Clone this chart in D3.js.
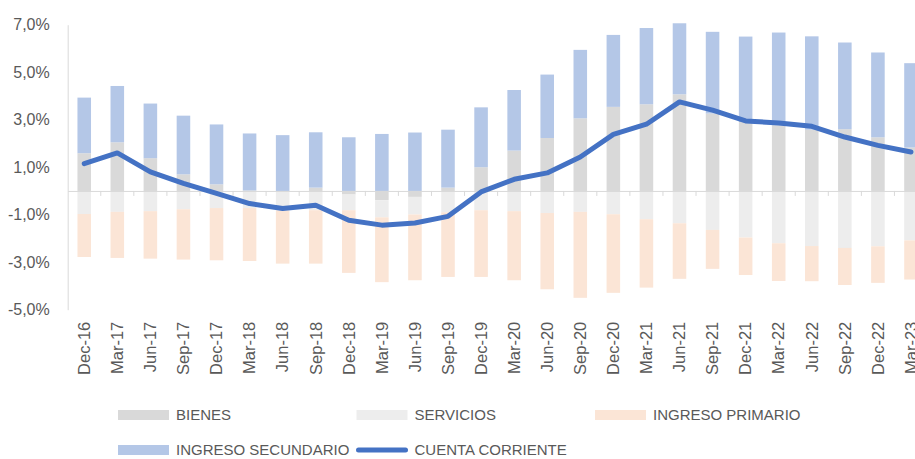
<!DOCTYPE html>
<html>
<head>
<meta charset="utf-8">
<script src="https://cdnjs.cloudflare.com/ajax/libs/d3/7.8.5/d3.min.js"></script>
<style>
  body { margin: 0; background: #fff; }
  text { font-family: "Liberation Sans", Arial, sans-serif; fill: #595959; }
</style>
</head>
<body>
<div id="chart"></div>
<script>
// quarters on the x axis
var periods = ['Dec-16', 'Mar-17', 'Jun-17', 'Sep-17', 'Dec-17', 'Mar-18', 'Jun-18', 'Sep-18',
  'Dec-18', 'Mar-19', 'Jun-19', 'Sep-19', 'Dec-19', 'Mar-20', 'Jun-20', 'Sep-20', 'Dec-20',
  'Mar-21', 'Jun-21', 'Sep-21', 'Dec-21', 'Mar-22', 'Jun-22', 'Sep-22', 'Dec-22', 'Mar-23'];

// % of GDP
var bienes = [1.59, 2.05, 1.38, 0.70, 0.28, 0.02, -0.02, 0.14, -0.15, -0.39, -0.25, 0.14, 1.00,
  1.70, 2.23, 3.06, 3.54, 3.65, 4.07, 3.26, 2.90, 2.77, 2.58, 2.60, 2.26, 1.83];
var servicios = [-0.97, -0.88, -0.85, -0.77, -0.72, -0.72, -0.80, -0.81, -0.66, -0.72, -0.74, -0.90, -0.81,
  -0.85, -0.93, -0.88, -0.98, -1.19, -1.36, -1.64, -1.96, -2.20, -2.32, -2.40, -2.33, -2.08];
var ingresoPrimario = [-1.81, -1.94, -2.00, -2.12, -2.20, -2.23, -2.24, -2.25, -2.64, -2.73, -2.77, -2.72, -2.81,
  -2.91, -3.21, -3.62, -3.31, -2.88, -2.34, -1.64, -1.58, -1.59, -1.48, -1.56, -1.54, -1.65];
var ingresoSecundario = [2.34, 2.37, 2.30, 2.47, 2.52, 2.40, 2.35, 2.33, 2.26, 2.40, 2.46, 2.44, 2.52,
  2.55, 2.67, 2.88, 3.03, 3.21, 2.99, 3.44, 3.60, 3.90, 3.93, 3.65, 3.57, 3.55];
var cuentaCorriente = [1.15, 1.60, 0.80, 0.32, -0.10, -0.53, -0.74, -0.60, -1.23, -1.44, -1.35, -1.07, -0.04,
  0.49, 0.76, 1.43, 2.38, 2.81, 3.75, 3.40, 2.95, 2.86, 2.72, 2.27, 1.92, 1.64];

var yTicks = [7, 5, 3, 1, -1, -3, -5];

var seriesKeys = ['bienes', 'servicios', 'primario', 'secundario'];
var seriesNames = ['BIENES', 'SERVICIOS', 'INGRESO PRIMARIO', 'INGRESO SECUNDARIO', 'CUENTA CORRIENTE'];

var colors = {
  bienes: '#d9d9d9',
  servicios: '#ededed',
  primario: '#fbe5d6',
  secundario: '#b4c7e7',
  linea: '#4472c4'
};

var width = 915, height = 459;
var left = 67.7, step = 33.07;

var svg = d3.select('#chart').append('svg')
  .attr('width', width)
  .attr('height', height);

var x = d3.scaleBand()
  .domain(periods)
  .range([left, left + periods.length * step])
  .paddingInner(0.59)
  .paddingOuter(0.295);

var y = d3.scaleLinear().domain([-5, 7]).range([309.7, 24.7]);

var esLocale = d3.formatLocale({decimal: ',', thousands: '.', grouping: [3], currency: ['', ''], minus: '-'});
var fmt = esLocale.format('.1f');

// rows for the stack
var rows = periods.map(function(p, i) {
  return {
    period: p,
    bienes: bienes[i],
    servicios: servicios[i],
    primario: ingresoPrimario[i],
    secundario: ingresoSecundario[i]
  };
});

var stacked = d3.stack().keys(seriesKeys).offset(d3.stackOffsetDiverging)(rows);

svg.append('g').selectAll('g')
  .data(stacked)
  .join('g')
  .attr('fill', function(d) { return colors[d.key]; })
  .selectAll('rect')
  .data(function(d) { return d; })
  .join('rect')
  .attr('x', function(d) { return x(d.data.period); })
  .attr('width', x.bandwidth())
  .attr('y', function(d) { return y(Math.max(d[0], d[1])); })
  .attr('height', function(d) { return Math.abs(y(d[0]) - y(d[1])); });

// y axis
var yAxis = svg.append('g')
  .attr('transform', 'translate(' + left + ',0)')
  .call(d3.axisLeft(y).tickValues(yTicks).tickSize(0).tickSizeOuter(0).tickPadding(18)
    .tickFormat(function(d) { return fmt(d) + '%'; }));
yAxis.select('.domain').attr('stroke', '#d9d9d9');
yAxis.selectAll('text').style('font-size', '16px').attr('font-family', null);

// zero line with ticks between the bars
var x0 = svg.append('g')
  .attr('transform', 'translate(0,' + y(0) + ')')
  .call(d3.axisBottom(x).tickSize(0).tickSizeOuter(0).tickFormat(''));
x0.select('.domain').attr('stroke', '#d9d9d9');

x0.selectAll('line.sep')
  .data(periods)
  .join('line')
  .attr('class', 'sep')
  .attr('x1', function(p) { return x(p) + x.bandwidth() / 2 + x.step() / 2; })
  .attr('x2', function(p) { return x(p) + x.bandwidth() / 2 + x.step() / 2; })
  .attr('y1', 0)
  .attr('y2', 5)
  .attr('stroke', '#d9d9d9');

// category labels, rotated
var xLabels = svg.append('g')
  .attr('transform', 'translate(0,' + y(-5) + ')')
  .call(d3.axisBottom(x).tickSize(0));
xLabels.select('.domain').remove();
xLabels.selectAll('text')
  .attr('font-family', null)
  .style('font-size', '16.5px')
  .attr('transform', 'rotate(-90)')
  .attr('x', -12)
  .attr('y', 0)
  .attr('dy', '0.35em')
  .attr('text-anchor', 'end');

// current account line
var line = d3.line()
  .x(function(d, i) { return x(periods[i]) + x.bandwidth() / 2; })
  .y(function(d) { return y(d); });

svg.append('path')
  .datum(cuentaCorriente)
  .attr('d', line)
  .attr('fill', 'none')
  .attr('stroke', colors.linea)
  .attr('stroke-width', 5)
  .attr('stroke-linejoin', 'round')
  .attr('stroke-linecap', 'round');

// legend, 3 columns
var legendKeys = seriesKeys.concat(['linea']);
var legend = svg.append('g').selectAll('g')
  .data(legendKeys)
  .join('g')
  .attr('transform', function(d, i) {
    return 'translate(' + (118 + (i % 3) * 238.5) + ',' + (415 + Math.floor(i / 3) * 35) + ')';
  });

legend.each(function(k) {
  var g = d3.select(this);
  if (k === 'linea') {
    g.append('line')
      .attr('x1', 2).attr('x2', 49).attr('y1', 0).attr('y2', 0)
      .attr('stroke', colors.linea)
      .attr('stroke-width', 5)
      .attr('stroke-linecap', 'round');
  } else {
    g.append('rect')
      .attr('x', 0).attr('y', -5)
      .attr('width', 51).attr('height', 10)
      .attr('fill', colors[k]);
  }
});

legend.append('text')
  .attr('x', 58)
  .attr('dy', '0.35em')
  .style('font-size', '15px')
  .text(function(d, i) { return seriesNames[i]; });
</script>
</body>
</html>
